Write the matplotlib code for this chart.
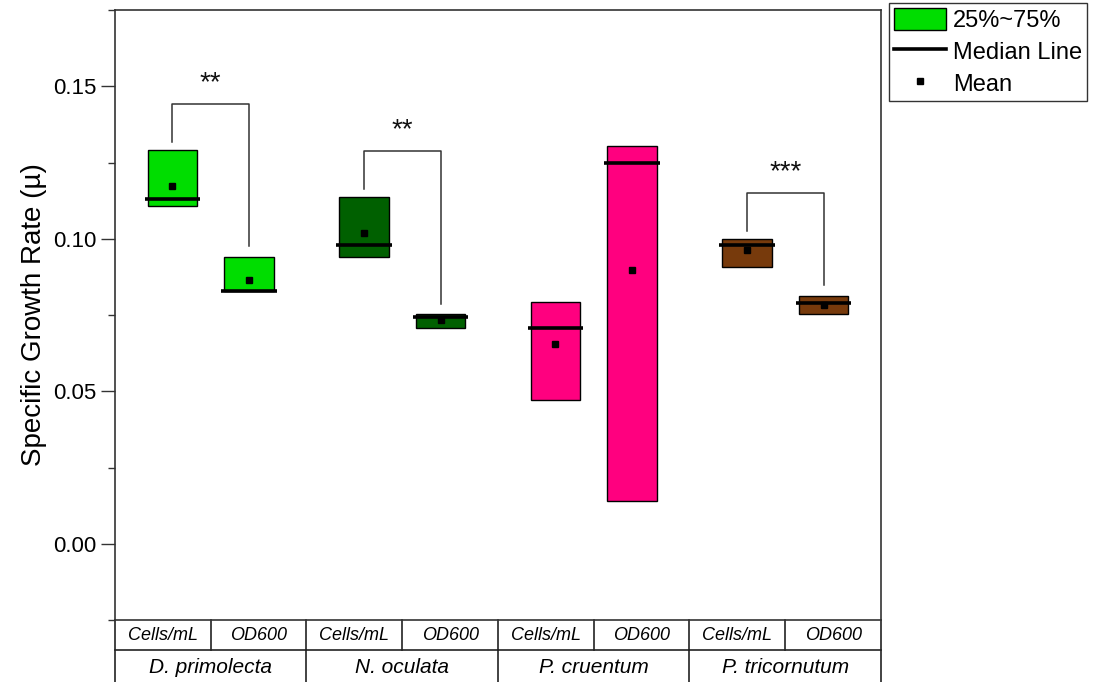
import numpy as np
import matplotlib.pyplot as plt
from matplotlib.lines import Line2D
from matplotlib.patches import Patch
from matplotlib.ticker import MultipleLocator

plt.rcParams['font.family'] = ['Liberation Sans', 'DejaVu Sans']

species = ["D. primolecta", "N. oculata", "P. cruentum", "P. tricornutum"]
methods = ["Cells/mL", "OD600"]

# one entry per box: D.p cells, D.p OD, N.o cells, N.o OD, P.c cells, P.c OD, P.t cells, P.t OD
q1 = [0.1109, 0.0829, 0.0940, 0.0707, 0.0470, 0.0140, 0.0909, 0.0752]
q3 = [0.1292, 0.0941, 0.1138, 0.0752, 0.0793, 0.1303, 0.1000, 0.0813]
median = [0.1129, 0.0830, 0.0980, 0.0745, 0.0708, 0.1250, 0.0981, 0.0791]
mean = [0.1173, 0.0866, 0.1020, 0.0733, 0.0654, 0.0896, 0.0963, 0.0783]
colors = ["#00DD00", "#00DD00", "#006000", "#006000",
          "#FF007F", "#FF007F", "#773A0C", "#773A0C"]

# significance between Cells/mL and OD600 for each species ('' = none)
signif = ["**", "**", "", "***"]

fig = plt.figure(figsize=(10.93, 6.82), dpi=100)
ax = fig.add_axes([0.1052, 0.0909, 0.7008, 0.8944])

n = len(q1)
xpos = np.array([2 * (i // 2) + 1 + (0.4 if i % 2 else -0.4) for i in range(n)])
box_w = 0.52

bottom = np.array(q1)
height = np.array(q3) - bottom
ax.bar(xpos, height, bottom=bottom, width=box_w, color=colors,
       edgecolor='black', linewidth=1.0, zorder=2)
ax.hlines(median, xpos - box_w / 2 - 0.03, xpos + box_w / 2 + 0.03,
          color='black', linewidth=2.6, zorder=3)
ax.plot(xpos, mean, 's', color='black', markersize=5, zorder=4)

# brackets with stars
for g, s in enumerate(signif):
    if not s:
        continue
    a, b = 2 * g, 2 * g + 1
    top = max(q3[a], q3[b]) + 0.015
    ax.plot([xpos[a], xpos[a], xpos[b], xpos[b]],
            [q3[a] + 0.0025, top, top, q3[b] + 0.0035],
            color='#333333', linewidth=1.1, zorder=1)
    ax.text((xpos[a] + xpos[b]) / 2, top + 0.0045, s, ha='center',
            va='baseline', fontsize=20, color='#111111')

ax.set_xlim(0, 8)
ax.set_ylim(-0.025, 0.175)
ax.set_xticks([])
ax.yaxis.set_major_locator(MultipleLocator(0.05))
ax.yaxis.set_minor_locator(MultipleLocator(0.025))
ax.yaxis.set_major_formatter(plt.FormatStrFormatter('%.2f'))
ax.tick_params(axis='y', which='major', length=10, width=1, labelsize=16,
               colors='#333333', labelcolor='black', direction='out')
ax.tick_params(axis='y', which='minor', length=5, width=1, colors='#333333')
ax.set_ylabel("Specific Growth Rate (\u00b5)", fontsize=20, labelpad=4)
for sp in ax.spines.values():
    sp.set_color('#333333')
    sp.set_linewidth(1.2)

# category table under the axes
trans = ax.get_xaxis_transform()
row1 = -30 / 610
row2 = -62 / 610
lk = dict(color='#222222', linewidth=1.2, transform=trans, clip_on=False)
ax.plot([0, 0], [0, row2], **lk)
ax.plot([8, 8], [0, row2], **lk)
ax.plot([0, 8], [row1, row1], **lk)
for k in range(1, 8):
    ax.plot([k, k], [0, row1], **lk)
for k in range(2, 8, 2):
    ax.plot([k, k], [row1, row2], **lk)
for k in range(8):
    ax.text(k + 0.5, row1 / 2, methods[k % 2], transform=trans, ha='center',
            va='center', fontsize=13, style='italic')
for g, name in enumerate(species):
    ax.text(2 * g + 1, (row1 + row2) / 2 - 0.002, name, transform=trans,
            ha='center', va='center', fontsize=15, style='italic')

handles = [Patch(facecolor=colors[0], edgecolor='black', linewidth=1, label="25%~75%"),
           Line2D([], [], color='black', linewidth=2.6, label="Median Line"),
           Line2D([], [], marker='s', color='black', linestyle='none',
                  markersize=5, label="Mean")]
leg = fig.legend(handles=handles, loc='upper left',
                 bbox_to_anchor=(889 / 1093, 1 - 3 / 682), fontsize=17,
                 frameon=True, fancybox=False, edgecolor='black',
                 borderaxespad=0, borderpad=0.2, handlelength=2.2,
                 handleheight=1.1, handletextpad=0.3, labelspacing=0.32)
leg.get_frame().set_linewidth(1.0)

fig.savefig("out.png", dpi=100)
